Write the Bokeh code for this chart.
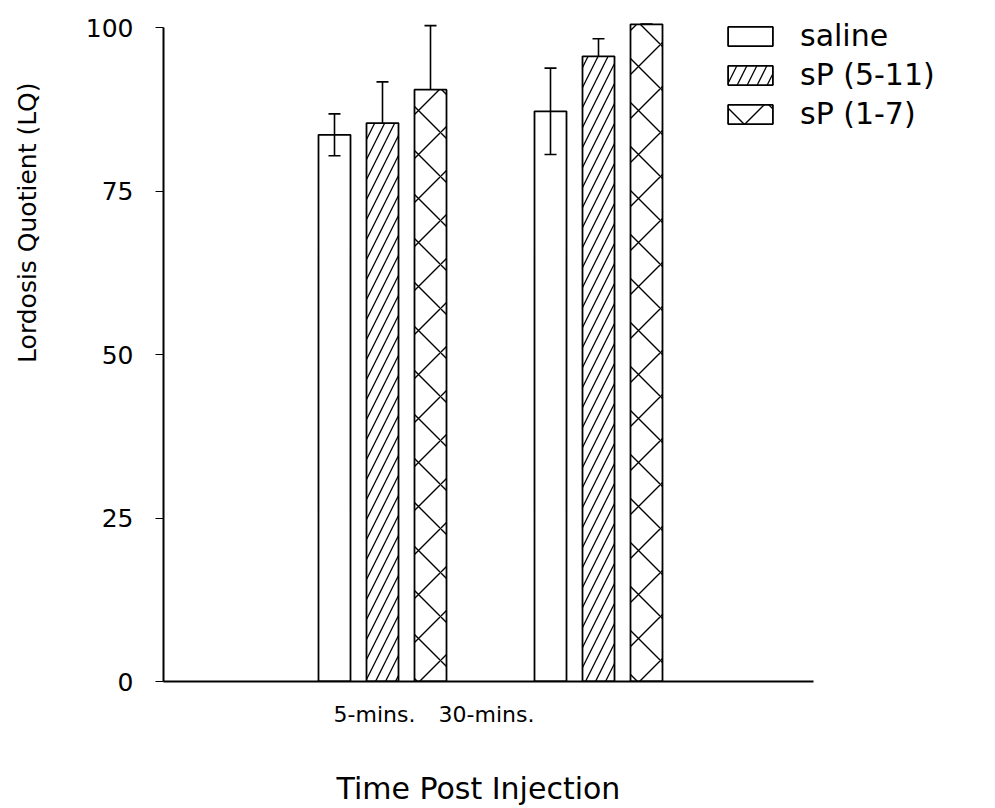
from bokeh.plotting import figure
from bokeh.models import (Range1d, FixedTicker, Whisker, ColumnDataSource, Legend,
                          LegendItem, Title, TeeHead)
from bokeh.embed import file_html
from bokeh.resources import INLINE

# ---- data ----
groups = ["5-mins.", "30-mins."]
series = ["saline", "sP (5-11)", "sP (1-7)"]
saline = [83.6, 87.2]
saline_err = [3.2, 6.6]
sp511 = [85.4, 95.6]
sp511_err = [6.3, 2.7]
sp17 = [90.5, 100.5]
sp17_err = [9.8, 0.0]
y_ticks = [0, 25, 50, 75, 100]

# ---- layout constants (not data) ----
group_centers = [219, 435]
bar_offsets = [-48, 0, 48]
bar_width = 32
label_positions = [211, 323]
FONT = "DejaVu Sans"

p = figure(frame_width=790, frame_height=667, output_backend="svg", toolbar_location=None,
           x_range=Range1d(0, 790), y_range=Range1d(0, 102),
           min_border_left=163, min_border_right=16, min_border_top=14, min_border_bottom=60)
p.outline_line_color = None
p.grid.visible = False
p.background_fill_color = "white"

styles = [
    dict(fill_color=None),
    dict(fill_color="white", hatch_pattern="/", hatch_scale=20, hatch_weight=1.3, hatch_color="black"),
    dict(fill_color="white", hatch_pattern="x", hatch_scale=44, hatch_weight=1.4, hatch_color="black"),
]
values = [saline, sp511, sp17]
errors = [saline_err, sp511_err, sp17_err]

renderers = []
for i, (vals, errs, st) in enumerate(zip(values, errors, styles)):
    xs = [c + bar_offsets[i] for c in group_centers]
    src = ColumnDataSource(dict(x=xs, top=vals,
                                upper=[v + e for v, e in zip(vals, errs)],
                                lower=[v - e for v, e in zip(vals, errs)]))
    w = Whisker(source=src, base="x", upper="upper", lower="lower", level="underlay",
                line_color="black", line_width=1.6,
                upper_head=TeeHead(size=12, line_width=1.6, line_color="black"),
                lower_head=TeeHead(size=12, line_width=1.6, line_color="black"))
    p.add_layout(w)
    r = p.vbar(x="x", top="top", width=bar_width, bottom=0, source=src,
               line_color="black", line_width=1.8, **st)
    renderers.append(r)

# y axis (blank axis label only reserves room so the title sits where the original has it)
p.yaxis.ticker = FixedTicker(ticks=y_ticks)
p.yaxis.bounds = (0, 100)
p.yaxis.major_tick_out = 8
p.yaxis.major_tick_in = 0
p.yaxis.minor_tick_line_color = None
p.yaxis.major_label_standoff = 22
p.yaxis.major_label_text_font = FONT
p.yaxis.major_label_text_font_size = "25px"
p.yaxis.major_label_text_color = "black"
p.yaxis.axis_line_width = 2
p.yaxis.axis_label = " "
p.yaxis.axis_label_text_font_size = "10px"
p.yaxis.axis_label_standoff = 26

# x axis
p.xaxis.ticker = FixedTicker(ticks=label_positions)
p.xaxis.major_label_overrides = {label_positions[0]: groups[0], label_positions[1]: groups[1]}
p.xaxis.bounds = (-10, 650)
p.xaxis.major_tick_out = 0
p.xaxis.major_tick_in = 0
p.xaxis.minor_tick_line_color = None
p.xaxis.major_label_standoff = 20
p.xaxis.major_label_text_font = FONT
p.xaxis.major_label_text_font_size = "22px"
p.xaxis.major_label_text_color = "black"
p.xaxis.axis_line_width = 2
p.xaxis.axis_label = " "
p.xaxis.axis_label_text_font_size = "10px"
p.xaxis.axis_label_standoff = 24

ytitle = Title(text="Lordosis Quotient (LQ)", align="right", offset=68,
               text_font=FONT, text_font_size="25px", text_font_style="normal",
               text_color="black", standoff=2)
p.add_layout(ytitle, "left")
xtitle = Title(text="Time Post Injection", align="left", offset=173,
               text_font=FONT, text_font_size="30px", text_font_style="normal",
               text_color="black", standoff=2)
p.add_layout(xtitle, "below")

legend = Legend(items=[LegendItem(label=s, renderers=[r]) for s, r in zip(series, renderers)],
                location=(559, 550), glyph_width=56, glyph_height=24, label_height=24,
                label_standoff=22, spacing=4, padding=0, margin=0,
                border_line_color=None, background_fill_alpha=0,
                label_text_font=FONT, label_text_font_size="30px", label_text_color="black")
p.add_layout(legend)

open("out.html", "w").write(file_html(p, INLINE))
